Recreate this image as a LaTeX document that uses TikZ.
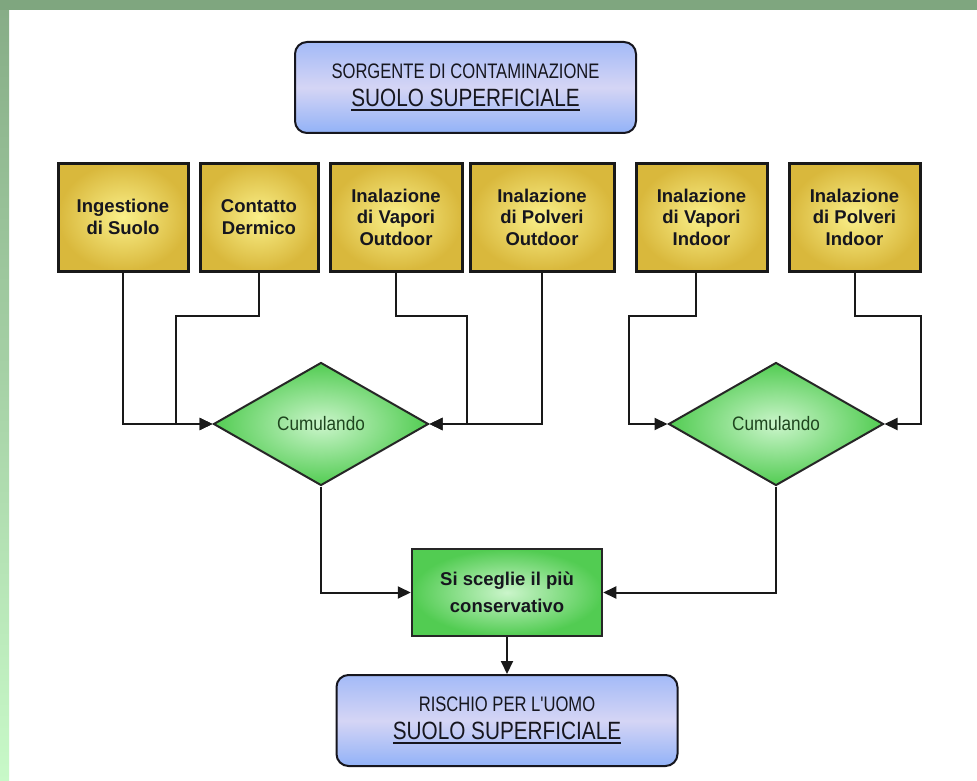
\documentclass[tikz,border=0pt]{standalone}
\usepackage{fontspec}
\setmainfont{Liberation Sans}
\newfontfamily\narrowA[FakeStretch=0.79]{Liberation Sans}
\newfontfamily\narrowB[FakeStretch=0.83]{Liberation Sans}
\newfontfamily\narrowC[FakeStretch=0.88]{Liberation Sans}
\usetikzlibrary{shapes.geometric,arrows.meta}
\definecolor{bandtop}{HTML}{7FA67F}
\definecolor{bandlo}{HTML}{C8F9C8}
\definecolor{bandhi}{HTML}{86AC86}
\definecolor{bluetop}{HTML}{A3BAF7}
\definecolor{bluemid}{HTML}{D5D5F5}
\definecolor{bluebot}{HTML}{92B2F7}
\definecolor{yelin}{HTML}{FAF08A}
\definecolor{yelout}{HTML}{D9B83C}
\definecolor{grin}{HTML}{CBF5CB}
\definecolor{grout}{HTML}{52CC52}
\definecolor{txtdark}{HTML}{16161E}
\definecolor{txtgreen}{HTML}{1E451E}
\newcommand\myul[1]{\setbox0\hbox{#1}\rlap{\rule[-4.5pt]{\wd0}{1.8pt}}\box0}
\tikzset{
  bluebox/.style={draw=txtdark, line width=2pt, rounded corners=12pt,
    top color=bluetop, bottom color=bluebot, middle color=bluemid,
    minimum width=341pt, minimum height=91pt, inner sep=0pt, align=center, text=txtdark,
    font=\narrowB\fontsize{25}{28}\selectfont},
  yelbox/.style={draw=black!90, line width=3pt, inner color=yelin, outer color=yelout,
    minimum height=108pt, inner sep=0pt, align=center, text=txtdark,
    font=\bfseries\fontsize{18.5}{21.5}\selectfont},
  grbox/.style={draw=black!85, line width=2.5pt, inner color=grin, outer color=grout,
    minimum width=190pt, minimum height=87pt, inner sep=0pt, align=center, text=txtdark,
    font=\bfseries\fontsize{18.5}{27}\selectfont},
  dia/.style={diamond, draw=black!85, line width=2pt, inner color=grin, outer color=grout,
    minimum width=215pt, minimum height=123pt, inner sep=0pt, text=txtgreen,
    font=\narrowC\fontsize{19.5}{22}\selectfont},
  conn/.style={line width=2pt, draw=black!90},
  arr/.style={conn, -{Triangle[length=13pt,width=12pt]}}
}
\begin{document}
\begin{tikzpicture}[x=1pt,y=-1pt]
\useasboundingbox (0,0) rectangle (977,781);
\fill[white] (0,0) rectangle (977,781);
\shade[top color=bandhi, bottom color=bandlo] (0,0) rectangle (9,781);
\fill[bandtop] (0,0) rectangle (977,10);

% source box
\node[bluebox] (src) at (465.5,87.5)
  {{\narrowA\fontsize{21}{28}\selectfont SORGENTE DI CONTAMINAZIONE}\\
   \myul{SUOLO SUPERFICIALE}};

% exposure pathways
\node[yelbox, minimum width=130pt] (y1) at (123,217) {Ingestione\\di Suolo};
\node[yelbox, minimum width=118pt] (y2) at (259,217) {Contatto\\Dermico};
\node[yelbox, minimum width=132pt] (y3) at (396,217) {Inalazione\\di Vapori\\Outdoor};
\node[yelbox, minimum width=144pt] (y4) at (542,217) {Inalazione\\di Polveri\\Outdoor};
\node[yelbox, minimum width=131pt] (y5) at (701.5,217) {Inalazione\\di Vapori\\Indoor};
\node[yelbox, minimum width=131pt] (y6) at (854.5,217) {Inalazione\\di Polveri\\Indoor};

% diamonds
\node[dia] (dL) at (321,424) {Cumulando};
\node[dia] (dR) at (776,424) {Cumulando};

% choice box
\node[grbox] (ch) at (507,592.5) {Si sceglie il più\\conservativo};

% result box
\node[bluebox] (res) at (507,720.5)
  {{\narrowA\fontsize{21}{28}\selectfont RISCHIO PER L'UOMO}\\
   \myul{SUOLO SUPERFICIALE}};

% junction coordinates
\coordinate (j2a) at (176,316);
\coordinate (j3a) at (467,316);
\coordinate (j5a) at (629,316);
\coordinate (j6a) at (921,316);
\coordinate (y5b) at (696,271);

% connectors
\draw[arr] (y1.south) |- (dL.west);
\draw[arr] (y2.south) |- (j2a) |- (dL.west);
\draw[arr] (y3.south) |- (j3a) |- (dL.east);
\draw[arr] (y4.south) |- (dL.east);
\draw[arr] (y5b) |- (j5a) |- (dR.west);
\draw[arr] (y6.south) |- (j6a) |- (dR.east);
\draw[arr] (dL.south) |- (ch.west);
\draw[arr] (dR.south) |- (ch.east);
\draw[arr] (ch.south) -- (res.north);
\end{tikzpicture}
\end{document}
